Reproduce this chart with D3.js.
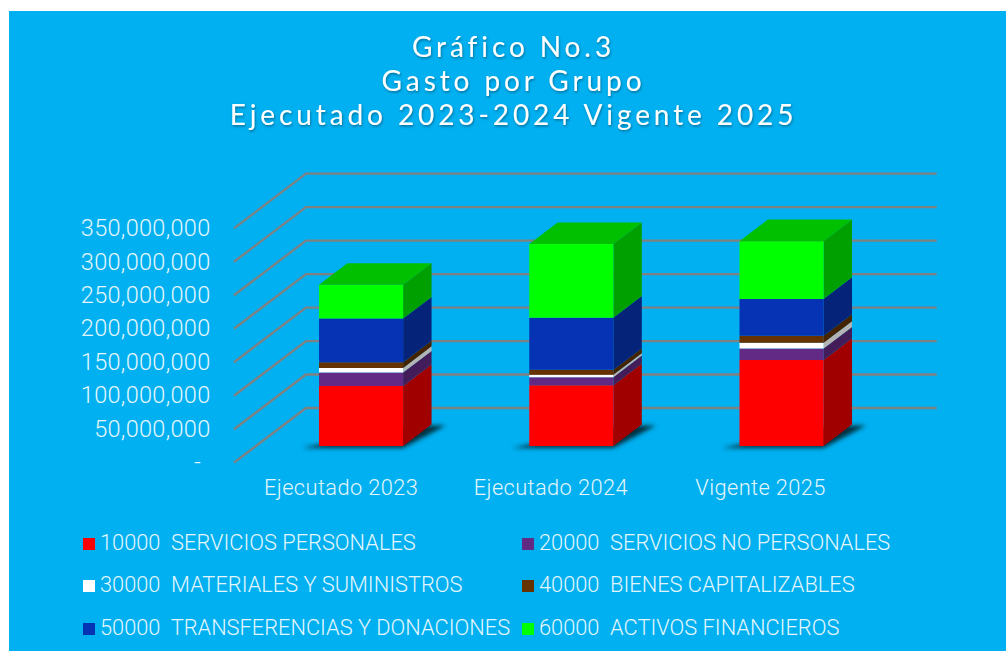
<!DOCTYPE html>
<html><head><meta charset="utf-8">
<script src="https://cdn.jsdelivr.net/npm/d3@7/dist/d3.min.js"></script>
<style>html,body{margin:0;padding:0;background:#fff;overflow:hidden}svg{display:block}</style>
</head><body><svg id="c" width="1006" height="651"></svg>
<script>
const titleLines = ["Gráfico No.3", "Gasto por Grupo", "Ejecutado 2023-2024 Vigente 2025"];
const categories = ["Ejecutado 2023", "Ejecutado 2024", "Vigente 2025"];
const seriesNames = ["10000  SERVICIOS PERSONALES", "20000  SERVICIOS NO PERSONALES", "30000  MATERIALES Y SUMINISTROS", "40000  BIENES CAPITALIZABLES", "50000  TRANSFERENCIAS Y DONACIONES", "60000  ACTIVOS FINANCIEROS"];
const s10000 = [89700000, 90800000, 128600000];
const s20000 = [19900000, 12000000, 17000000];
const s30000 = [7000000, 3500000, 8500000];
const s40000 = [8500000, 7500000, 10500000];
const s50000 = [65200000, 77800000, 55000000];
const s60000 = [50400000, 110000000, 86200000];
const colors = ["#FF0000", "#622A85", "#FFFFFF", "#663300", "#0533B3", "#00FF00"];
const sideColors = ["#A00000", "#431D5A", "#B4B4B4", "#452200", "#052378", "#00A000"];
const topColor = "#00C000";
const yTicks = [0, 50000000, 100000000, 150000000, 200000000, 250000000, 300000000, 350000000];

const rows = categories.map((c, i) => ({c, s0:s10000[i], s1:s20000[i], s2:s30000[i], s3:s40000[i], s4:s50000[i], s5:s60000[i]}));
const stack = d3.stack().keys(["s0","s1","s2","s3","s4","s5"])(rows);

const svg = d3.select("#c");
const defs = svg.append("defs");
defs.append("filter").attr("id","blur").attr("x","-20%").attr("y","-40%").attr("width","140%").attr("height","180%")
  .append("feGaussianBlur").attr("stdDeviation",2.2);
defs.append("filter").attr("id","ts").attr("x","-5%").attr("y","-20%").attr("width","110%").attr("height","150%")
  .append("feDropShadow").attr("dx",0.8).attr("dy",1.5).attr("stdDeviation",1).attr("flood-color","#003a55").attr("flood-opacity",0.55);

svg.append("rect").attr("x",9).attr("y",11).attr("width",997).attr("height",640).attr("fill","#00B0F0");

const x = d3.scaleBand().domain(categories).range([234, 864.7]);
const y = d3.scaleLinear().domain([0, 350000000]).range([462.7, 228.3]);
const DX = 72, DY = -54.7;
const P = (px, val, z) => [px + DX*z, y(val) + DY*z];
const line = d3.line();

svg.append("g").selectAll("path").data(yTicks).join("path")
  .attr("d", t => line([P(x.range()[0], t, 0), P(x.range()[0], t, 1), P(x.range()[1], t, 1)]))
  .attr("fill","none").attr("stroke","#808080").attr("stroke-width",2.3);

svg.append("g").selectAll("text").data(yTicks).join("text")
  .attr("x", t => t === 0 ? 201 : 210.5).attr("y", t => y(t)-0.5).attr("dy","0.35em")
  .attr("text-anchor","end").attr("fill","#E4F6FD").style("letter-spacing","0.3px")
  .style("font","300 23.5px Roboto")
  .text(t => t === 0 ? "-" : d3.format(",")(t));

const barW = x.bandwidth()*0.4, z0 = 0.305, z1 = 0.70;
const g = svg.append("g");
categories.forEach((c, i) => {
  const l = x(c) + (x.bandwidth()-barW)/2, r = l + barW;
  const a = P(l,0,z0), b = P(r,0,z0), e = P(r,0,z1);
  g.append("path").attr("filter","url(#blur)").attr("fill","#00303F")
    .attr("d", line([[a[0]-17,a[1]+2],[b[0],b[1]+2],[e[0]+14,e[1]+1],[e[0]-20,e[1]+1]])+"Z");
  stack.forEach((s, k) => {
    const v0 = s[i][0], v1 = s[i][1];
    g.append("path").attr("fill",sideColors[k])
      .attr("d", line([P(r,v0,z0),P(r,v0,z1),P(r,v1,z1),P(r,v1,z0)])+"Z");
    g.append("path").attr("fill",colors[k])
      .attr("d", line([P(l,v0,z0),P(r,v0,z0),P(r,v1,z0),P(l,v1,z0)])+"Z");
    if (k === stack.length-1) {
      g.append("path").attr("fill",topColor)
        .attr("d", line([P(l,v1,z0),P(r,v1,z0),P(r,v1,z1),P(l,v1,z1)])+"Z");
    }
  });
});

svg.append("g").selectAll("text").data(categories).join("text")
  .attr("x", (c,i) => x(c)+x.bandwidth()/2 + 2 - i*0.5).attr("y",495)
  .attr("text-anchor","middle").attr("fill","#E4F6FD").style("letter-spacing","0.4px")
  .style("font","300 21.8px Roboto").text(c => c);

const legX = [83, 522], legY = [544, 586, 629];
const leg = svg.append("g").selectAll("g").data(seriesNames).join("g")
  .attr("transform",(d,i)=>`translate(${legX[i%2]},${legY[Math.floor(i/2)]})`);
leg.append("rect").attr("x",0).attr("y",-6).attr("width",12).attr("height",12).attr("fill",(d,i)=>colors[i]);
leg.append("text").attr("x",17).attr("y",6).attr("fill","#E4F6FD").style("white-space","pre")
  .style("font","300 21.8px Roboto").text(d=>d);

svg.append("g").selectAll("text").data(titleLines).join("text")
  .attr("x",513.5).attr("y",(d,i)=>56.7+i*34.3).attr("text-anchor","middle")
  .attr("fill","#fff").attr("filter","url(#ts)").style("letter-spacing","3.9px")
  .style("font-family","Lato").style("font-size","28px").text(d=>d);
</script></body></html>
